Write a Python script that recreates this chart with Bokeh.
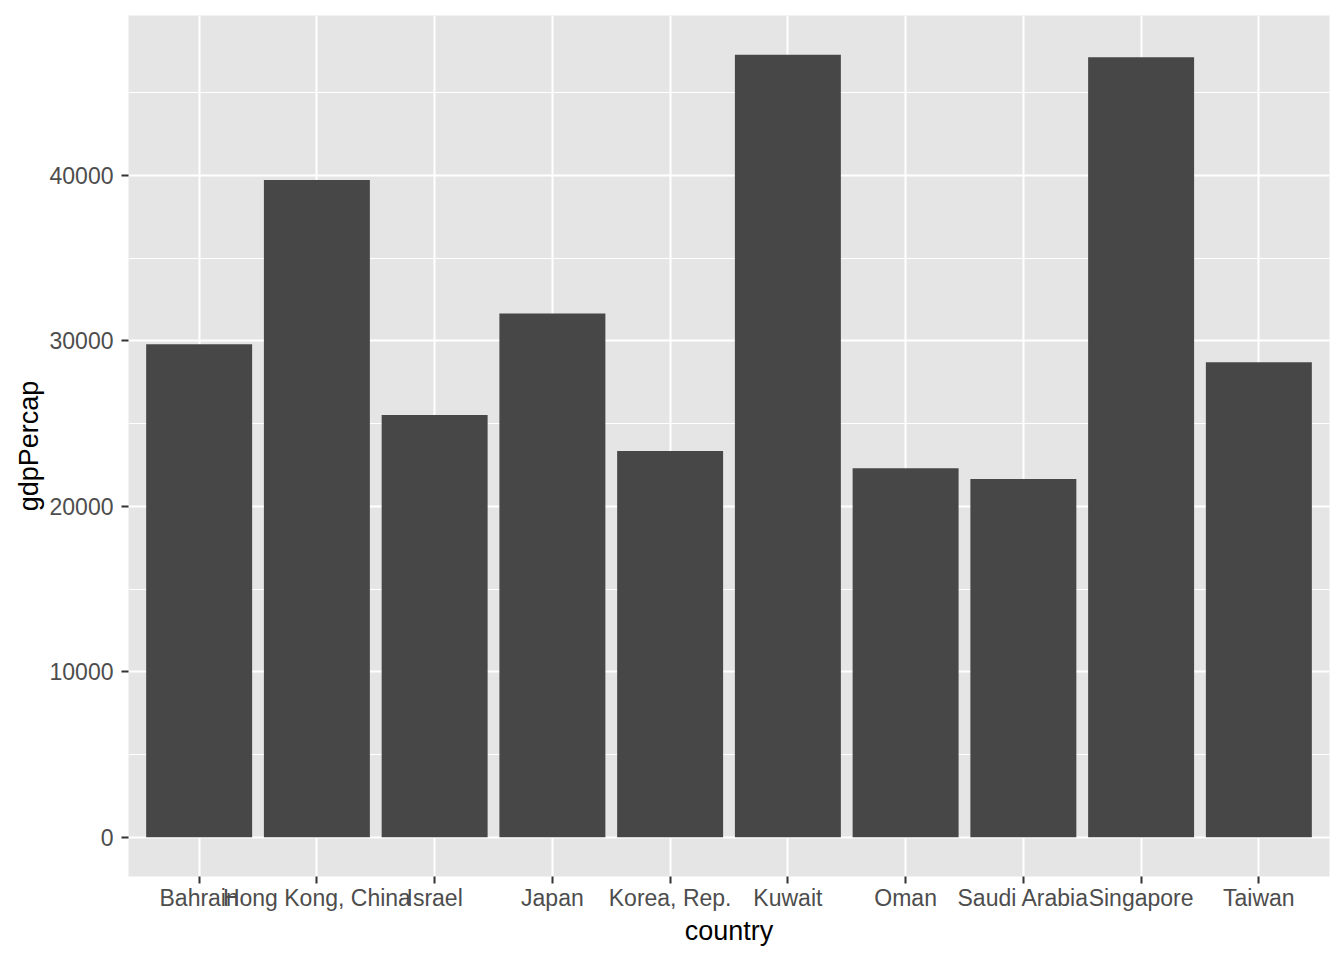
from bokeh.plotting import figure
from bokeh.models import FactorRange, Range1d, SingleIntervalTicker
from bokeh.embed import file_html
from bokeh.resources import INLINE

countries = ["Bahrain", "Hong Kong, China", "Israel", "Japan", "Korea, Rep.",
             "Kuwait", "Oman", "Saudi Arabia", "Singapore", "Taiwan"]
gdp_percap = [29796, 39725, 25523, 31656, 23348, 47307, 22316, 21655, 47143, 28718]

ymax = max(gdp_percap)
pad = 0.05 * ymax

p = figure(
    width=1336, height=952,
    x_range=FactorRange(factors=countries, range_padding=0.02),
    y_range=Range1d(-pad, ymax + pad),
    output_backend="svg", toolbar_location=None,
    min_border_left=128, min_border_right=7, min_border_top=15, min_border_bottom=76,
)
p.background_fill_color = "#E5E5E5"
p.border_fill_color = "white"
p.outline_line_color = None

p.vbar(x=countries, top=gdp_percap, width=0.9, fill_color="#474747", line_color=None)

p.yaxis.ticker = SingleIntervalTicker(interval=10000, num_minor_ticks=2)

p.xgrid.grid_line_color = "white"
p.xgrid.grid_line_width = 2
p.ygrid.grid_line_color = "white"
p.ygrid.grid_line_width = 2
p.ygrid.minor_grid_line_color = "white"
p.ygrid.minor_grid_line_width = 1

for ax in (p.xaxis, p.yaxis):
    ax.axis_line_color = None
    ax.major_tick_line_color = "#333333"
    ax.major_tick_line_width = 2
    ax.major_tick_out = 7
    ax.major_tick_in = 0
    ax.minor_tick_line_color = None
    ax.major_label_text_font = "Liberation Sans"
    ax.major_label_text_font_size = "23px"
    ax.major_label_text_color = "#4D4D4D"
    ax.axis_label_text_font = "Liberation Sans"
    ax.axis_label_text_font_size = "27px"
    ax.axis_label_text_font_style = "normal"
    ax.axis_label_text_color = "black"

p.xaxis.axis_label = "country"
p.yaxis.axis_label = "gdpPercap"
p.xaxis.major_label_standoff = 1
p.yaxis.major_label_standoff = 8
p.xaxis.axis_label_standoff = 2
p.yaxis.axis_label_standoff = 3

open("out.html", "w").write(file_html(p, INLINE))
